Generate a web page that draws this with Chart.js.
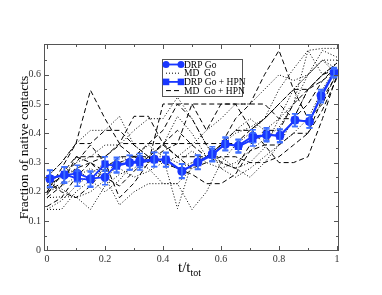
<!DOCTYPE html>
<html><head><meta charset="utf-8">
<script src="https://cdn.jsdelivr.net/npm/chart.js@4/dist/chart.umd.min.js"></script>
<style>html,body{margin:0;padding:0;background:#fff}#wrap{width:382px;height:295px}</style>
</head><body><div id="wrap"><canvas id="c" width="382" height="295"></canvas></div>
<script>
// ---- data ----
const tMD = [0,0.05,0.1,0.15,0.2,0.25,0.3,0.35,0.4,0.45,0.5,0.55,0.6,0.65,0.7,0.75,0.8,0.85,0.9,0.95,1.0];
const mdGo1 = [0.25,0.30,0.365,0.41,0.41,0.458,0.36,0.32,0.30,0.28,0.30,0.32,0.36,0.40,0.42,0.45,0.50,0.55,0.60,0.65,0.65];
const mdGo2 = [0.14,0.14,0.20,0.24,0.28,0.32,0.30,0.28,0.228,0.228,0.14,0.20,0.30,0.36,0.40,0.45,0.55,0.62,0.683,0.69,0.69];
const mdGo3 = [0.18,0.183,0.183,0.14,0.22,0.26,0.28,0.32,0.36,0.458,0.40,0.32,0.30,0.28,0.30,0.35,0.45,0.55,0.60,0.683,0.66];
const mdGo4 = [0.20,0.22,0.25,0.28,0.25,0.155,0.20,0.228,0.228,0.228,0.28,0.32,0.36,0.41,0.45,0.41,0.45,0.50,0.60,0.65,0.62];
const mdGo5 = [0.23,0.26,0.30,0.32,0.36,0.36,0.41,0.45,0.45,0.523,0.45,0.36,0.28,0.25,0.28,0.32,0.36,0.45,0.55,0.60,0.64];
const mdGo6 = [0.22,0.21,0.18,0.20,0.24,0.30,0.32,0.36,0.32,0.143,0.30,0.32,0.32,0.28,0.25,0.30,0.36,0.40,0.45,0.55,0.63];
const mdGo7 = [0.14,0.17,0.22,0.26,0.30,0.28,0.25,0.27,0.30,0.32,0.36,0.41,0.45,0.50,0.50,0.55,0.60,0.58,0.60,0.65,0.60];
const mdGo8 = [0.21,0.25,0.28,0.24,0.20,0.24,0.30,0.32,0.32,0.30,0.34,0.30,0.28,0.30,0.34,0.38,0.42,0.50,0.683,0.60,0.64];
const mdHpn1 = [0.20,0.28,0.365,0.547,0.45,0.365,0.365,0.365,0.365,0.365,0.365,0.365,0.365,0.365,0.41,0.45,0.50,0.55,0.55,0.58,0.62];
const mdHpn2 = [0.18,0.22,0.32,0.32,0.32,0.365,0.458,0.458,0.365,0.32,0.32,0.32,0.36,0.41,0.41,0.45,0.50,0.45,0.50,0.58,0.63];
const mdHpn3 = [0.22,0.25,0.30,0.36,0.30,0.18,0.23,0.30,0.50,0.50,0.50,0.41,0.50,0.50,0.50,0.60,0.683,0.55,0.45,0.50,0.61];
const mdHpn4 = [0.24,0.20,0.18,0.22,0.28,0.32,0.32,0.365,0.41,0.50,0.45,0.36,0.30,0.28,0.36,0.41,0.41,0.50,0.55,0.60,0.64];
const mdHpn5 = [0.19,0.26,0.32,0.30,0.27,0.30,0.32,0.32,0.30,0.28,0.26,0.228,0.228,0.26,0.34,0.36,0.36,0.40,0.40,0.52,0.60];
const mdHpn6 = [0.25,0.30,0.365,0.365,0.41,0.41,0.36,0.32,0.365,0.41,0.36,0.32,0.36,0.45,0.50,0.50,0.45,0.45,0.55,0.60,0.62];
const mdHpn7 = [0.15,0.18,0.25,0.30,0.25,0.22,0.27,0.32,0.36,0.32,0.28,0.30,0.32,0.32,0.30,0.30,0.32,0.36,0.40,0.48,0.59];
const mdHpn8 = [0.20,0.23,0.28,0.30,0.32,0.36,0.32,0.30,0.34,0.365,0.50,0.50,0.50,0.50,0.42,0.36,0.30,0.30,0.32,0.45,0.60];

const tDRP = [0.01,0.06,0.105,0.15,0.20,0.24,0.285,0.32,0.37,0.41,0.465,0.52,0.57,0.615,0.66,0.71,0.757,0.803,0.855,0.905,0.945,0.99];
const drpGo    = [0.245,0.257,0.263,0.245,0.250,0.293,0.300,0.307,0.311,0.309,0.270,0.302,0.330,0.362,0.358,0.390,0.393,0.393,0.445,0.440,0.530,0.610];
const drpGoErr = [0.030,0.028,0.028,0.026,0.026,0.025,0.025,0.024,0.024,0.024,0.024,0.024,0.024,0.022,0.022,0.022,0.022,0.022,0.022,0.022,0.020,0.015];
const drpHpn    = [0.245,0.260,0.245,0.242,0.295,0.288,0.300,0.299,0.310,0.311,0.272,0.300,0.325,0.365,0.355,0.379,0.397,0.390,0.445,0.441,0.524,0.605];
const drpHpnErr = [0.028,0.026,0.026,0.026,0.025,0.024,0.024,0.024,0.024,0.024,0.024,0.024,0.022,0.022,0.022,0.022,0.022,0.022,0.022,0.022,0.020,0.015];

const xTicks = [0,0.2,0.4,0.6,0.8,1];
const xTickLabels = ['0','0.2','0.4','0.6','0.8','1'];
const xMinor = [0.1,0.3,0.5,0.7,0.9];
const yTicks = [0,0.1,0.2,0.3,0.4,0.5,0.6];
const yTickLabels = ['0','0.1','0.2','0.3','0.4','0.5','0.6'];
const yMinor = [0.05,0.15,0.25,0.35,0.45,0.55,0.65];

const legendLabels = ['DRP Go','MD  Go','DRP Go + HPN','MD  Go + HPN'];
const yTitle = 'Fraction of native contacts';

// ---- build ----
const pts = (xs, ys) => xs.map((x,i)=>({x:x, y:ys[i]}));
const BLUE = 'rgb(25,55,255)';
const ERRBLUE = 'rgb(60,110,255)';
const SERIF = '"Liberation Serif", "DejaVu Serif", serif';

const datasets = [];
datasets.push({label:legendLabels[0], data:pts(tDRP,drpGo), err:drpGoErr, borderColor:BLUE, backgroundColor:BLUE, borderWidth:1.8, pointStyle:'circle', pointRadius:3.6, order:0, isDRP:true});
datasets.push({label:legendLabels[2], data:pts(tDRP,drpHpn), err:drpHpnErr, borderColor:BLUE, backgroundColor:BLUE, borderWidth:1.8, pointStyle:'rect', pointRadius:3.8, order:0, isDRP:true});
const goSets = [mdGo1,mdGo2,mdGo3,mdGo4,mdGo5,mdGo6,mdGo7,mdGo8];
const hpnSets = [mdHpn1,mdHpn2,mdHpn3,mdHpn4,mdHpn5,mdHpn6,mdHpn7,mdHpn8];
goSets.forEach((s,i)=>datasets.push({label:legendLabels[1], data:pts(tMD,s), borderColor:'#000', borderWidth:1, borderDash:[1,2], pointRadius:0, order:1}));
hpnSets.forEach((s,i)=>datasets.push({label:legendLabels[3], data:pts(tMD,s), borderColor:'#000', borderWidth:1, borderDash:[5,3], pointRadius:0, order:1}));

const frameTicks = {
  id:'frameTicks',
  afterDraw(chart){
    const ctx = chart.ctx, a = chart.chartArea, xs = chart.scales.x, ys = chart.scales.y;
    ctx.save();
    ctx.strokeStyle = '#555'; ctx.lineWidth = 1;
    ctx.strokeRect(a.left+0.5, a.top+0.5, a.right-a.left-1, a.bottom-a.top-1);
    ctx.beginPath();
    const tx = (v,len)=>{const p=Math.round(xs.getPixelForValue(v))+0.5; ctx.moveTo(p,a.bottom); ctx.lineTo(p,a.bottom-len); ctx.moveTo(p,a.top); ctx.lineTo(p,a.top+len);};
    const ty = (v,len)=>{const p=Math.round(ys.getPixelForValue(v))+0.5; ctx.moveTo(a.left,p); ctx.lineTo(a.left+len,p); ctx.moveTo(a.right,p); ctx.lineTo(a.right-len,p);};
    xTicks.forEach(v=>tx(v,5)); xMinor.forEach(v=>tx(v,3));
    yTicks.forEach(v=>ty(v,5)); yMinor.forEach(v=>ty(v,3));
    ctx.stroke();
    // x title with subscript
    ctx.fillStyle = '#000';
    ctx.textBaseline = 'alphabetic';
    const main = 't/t';
    ctx.font = '15px ' + SERIF; const w1 = ctx.measureText(main).width;
    ctx.font = '10px ' + SERIF; const w2 = ctx.measureText('tot').width;
    const cx = (a.left+a.right)/2 - 2;
    const sx = cx - (w1+w2)/2;
    ctx.font = '15px ' + SERIF; ctx.textAlign='left';
    ctx.fillText(main, sx, 272);
    ctx.font = '10px ' + SERIF;
    ctx.fillText('tot', sx + w1, 276);
    // y title
    ctx.save();
    ctx.translate(27.5, (a.top+a.bottom)/2);
    ctx.rotate(-Math.PI/2);
    ctx.font = '13.5px ' + SERIF; ctx.textAlign='center';
    ctx.fillText(yTitle, 0, 0);
    ctx.restore();
    // legend
    const lx = a.left + 118, ly = a.top + 15, lw = 80, lh = 37;
    ctx.fillStyle = '#fff'; ctx.fillRect(lx, ly, lw, lh);
    ctx.strokeStyle = '#555'; ctx.lineWidth = 1; ctx.strokeRect(lx+0.5, ly+0.5, lw, lh);
    const rows = [chart.data.datasets[0], chart.data.datasets[2], chart.data.datasets[1], chart.data.datasets[2+goSets.length]];
    rows.forEach((ds,i)=>{
      const yy = ly + 5.5 + i*8.7;
      ctx.save();
      ctx.strokeStyle = ds.borderColor; ctx.lineWidth = ds.borderWidth;
      ctx.setLineDash(ds.borderDash || []);
      ctx.beginPath(); ctx.moveTo(lx+4, yy); ctx.lineTo(lx+19, yy); ctx.stroke();
      ctx.setLineDash([]);
      if (ds.isDRP){
        ctx.fillStyle = ds.backgroundColor;
        [lx+4, lx+19].forEach(px=>{
          if (ds.pointStyle==='rect'){ ctx.fillRect(px-3.3, yy-3.3, 6.6, 6.6); }
          else { ctx.beginPath(); ctx.arc(px, yy, 3.5, 0, Math.PI*2); ctx.fill(); }
        });
      }
      ctx.restore();
      ctx.fillStyle = '#000'; ctx.font = '9.5px ' + SERIF; ctx.textAlign='left'; ctx.textBaseline='middle';
      ctx.fillText(ds.label, lx+22, yy+0.5);
    });
    ctx.restore();
  },
  afterDatasetsDraw(chart){
    const ctx = chart.ctx, ys = chart.scales.y;
    ctx.save();
    ctx.strokeStyle = ERRBLUE; ctx.lineWidth = 1.5;
    chart.data.datasets.forEach((ds,di)=>{
      if (!ds.isDRP) return;
      const meta = chart.getDatasetMeta(di);
      meta.data.forEach((el,i)=>{
        const v = ds.data[i].y, e = ds.err[i];
        const y1 = ys.getPixelForValue(v-e), y2 = ys.getPixelForValue(v+e);
        ctx.beginPath();
        ctx.moveTo(el.x, y1); ctx.lineTo(el.x, y2);
        ctx.moveTo(el.x-3, y1); ctx.lineTo(el.x+3, y1);
        ctx.moveTo(el.x-3, y2); ctx.lineTo(el.x+3, y2);
        ctx.stroke();
      });
    });
    ctx.restore();
  }
};

new Chart(document.getElementById('c'), {
  type:'line',
  data:{datasets:datasets},
  options:{
    responsive:false, animation:false, devicePixelRatio:1,
    layout:{padding:{top:44, right:43, left:0, bottom:0}},
    plugins:{legend:{display:false}, tooltip:{enabled:false}},
    elements:{line:{tension:0}},
    scales:{
      x:{type:'linear', min:-0.0103, max:1.0069,
        grid:{display:false, drawTicks:false}, border:{display:false},
        afterBuildTicks(s){ s.ticks = xTicks.map(v=>({value:v})); },
        afterFit(s){ s.height = 44; },
        ticks:{color:'#333', font:{family:SERIF, size:10}, padding:2, maxRotation:0, autoSkip:false,
          callback:(v)=>xTickLabels[xTicks.indexOf(v)] }
      },
      y:{type:'linear', min:-0.002, max:0.705,
        grid:{display:false, drawTicks:false}, border:{display:false},
        afterBuildTicks(s){ s.ticks = yTicks.map(v=>({value:v})); },
        afterFit(s){ s.width = 44; },
        ticks:{color:'#333', font:{family:SERIF, size:10}, padding:3, autoSkip:false,
          callback:(v)=>yTickLabels[yTicks.indexOf(v)] }
      }
    }
  },
  plugins:[frameTicks]
});
</script>
</body></html>
